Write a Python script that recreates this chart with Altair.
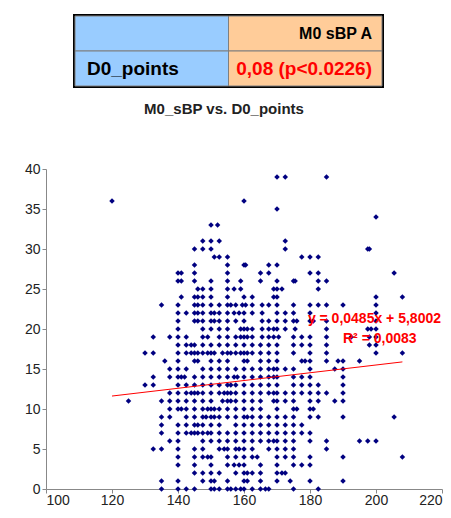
import altair as alt
import pandas as pd

# ---------------- data ----------------
# sBP values (x) at each D0_points level (y)
d0_39 = [170, 172.5, 185]
d0_36 = [120, 160]
d0_35 = [170]
d0_34 = [200]
d0_33 = [150, 152]
d0_31 = [147.5, 150, 152.5, 172.5]
d0_30 = [145, 147.5, 150, 172.5, 197.5, 198]
d0_29 = [151, 152.5, 155, 177.5, 180, 182.5]
d0_28 = [145, 155, 160, 160.5, 167.5, 170]
d0_27 = [140, 141, 145, 155, 165, 167.5, 180, 182.5, 205.5]
d0_26 = [140, 141, 145, 150, 155, 159, 165, 170, 175, 175.5, 182.5, 185]
d0_25 = [146, 147.5, 150, 155, 157, 159, 169, 170, 171.5, 182.5]
d0_24 = [141, 145, 146, 147.5, 150, 155, 160, 162.5, 169, 170, 200, 208]
d0_23 = [135, 140, 145, 146, 147.5, 150, 152.5, 155, 156, 157.5, 159.5, 160.5,
         162.5, 165.5, 167.5, 170, 175, 180, 182.5, 185, 190, 200]
d0_22 = [140, 142.5, 145, 146, 147.5, 150, 151, 152.5, 155, 157, 158.5, 160,
         162.5, 165.5, 170, 172.5, 175, 180, 200]
d0_21 = [140, 145, 146, 147.5, 150, 151, 152.5, 155, 157.5, 160, 165.5, 167.5,
         170, 172.5, 175, 176, 180, 181, 185, 200]
d0_20 = [140, 147.5, 150, 152.5, 155, 159, 160, 161, 162.5, 165.5, 167.5, 169,
         170, 172.5, 175.5, 185, 197.5, 198.5, 200]
d0_19 = [132.5, 137.5, 140, 142.5, 147.5, 149, 152.5, 155, 157.5, 159, 160, 161,
         162.5, 165.5, 167.5, 169, 170.5, 175, 177.5, 180, 185, 192.5, 198, 200]
d0_18 = [140, 142.5, 144, 145, 147.5, 150, 152.5, 155, 157.5, 160, 162.5, 165,
         167.5, 170, 175, 177.5, 180, 185, 198, 200]
d0_17 = [130, 132.5, 140, 142.5, 144, 145, 146, 147.5, 149, 150, 151, 153.5, 155,
         156, 157.5, 159, 160, 161, 162.5, 165, 167.5, 170, 175, 180, 185, 200, 208]
d0_16 = [136, 140, 145, 146, 150, 152.5, 155, 160, 161, 165, 167.5, 170, 177.5,
         178.5, 180, 185, 188.5, 190, 195]
d0_15 = [137.5, 140, 142.5, 147.5, 150, 152.5, 155, 157.5, 160, 162.5, 165, 167.5,
         169, 170, 172.5, 175, 180, 187.5, 190]
d0_14 = [132.5, 137.5, 140, 141, 142, 145, 147.5, 150, 152.5, 155, 157, 158, 160,
         162.5, 165, 167.5, 169, 170, 175, 177.5, 180, 190]
d0_13 = [130, 132.5, 140, 142.5, 145, 147.5, 150, 152.5, 155, 156, 157.5, 160,
         162.5, 165, 167.5, 170, 175, 177.5, 180, 182.5, 190]
d0_12 = [137.5, 140, 142.5, 144, 145, 146, 147.5, 150, 152.5, 154, 155, 156, 157.5,
         160, 162.5, 165, 167.5, 169, 170, 172.5, 175, 177.5, 180, 182.5, 185, 190]
d0_11 = [125, 135, 137.5, 140, 142.5, 145, 147.5, 150, 153.5, 155, 156, 157.5, 160,
         162.5, 165, 169, 170, 172.5, 175, 180, 182.5, 187.5, 190]
d0_10 = [137.5, 140, 141, 142.5, 145, 147.5, 149, 150, 151, 152.5, 155, 157.5, 160,
         162.5, 165, 170, 175, 176, 180, 181]
d0_9 = [135, 137.5, 142.5, 145, 147.5, 148.5, 150, 151, 152.5, 155, 157.5, 160, 161,
        162.5, 165, 167.5, 170, 172.5, 175, 180, 182.5, 190, 205.5]
d0_8 = [135, 140, 142.5, 145, 146, 147.5, 150, 152.5, 157.5, 160, 162.5, 165, 167.5,
        170, 172.5, 175, 177.5]
d0_7 = [135, 140, 142.5, 144, 145, 146, 147.5, 149, 150, 152.5, 155, 157.5, 160,
        162.5, 165, 167.5, 170, 172.5, 175, 177.5, 180]
d0_6 = [137.5, 140, 147.5, 150, 152.5, 155, 157.5, 160, 162.5, 165, 167.5, 169, 170,
        172.5, 175, 180, 185, 195, 197.5, 200]
d0_5 = [132.5, 135, 140, 145, 147.5, 152.5, 154, 155, 157.5, 158.5, 160, 162.5,
        167.5, 170, 172.5, 175, 185]
d0_4 = [140, 145, 147.5, 149, 150, 155, 157.5, 160, 162.5, 164, 170, 172.5, 175, 180,
        190, 208]
d0_3 = [140, 145, 150, 155, 157, 158.5, 160, 165, 170, 175, 177.5, 180]
d0_2 = [145, 147.5, 150, 152.5, 157.5, 160, 161, 162.5, 165, 170, 171.5, 172.5]
d0_1 = [135, 140, 147.5, 150, 151, 155, 160, 161, 165, 170, 174, 180, 190]
d0_0 = [135, 140, 142.5, 145, 150, 151, 152.5, 155, 156, 157.5, 159, 160, 162.5, 165,
        166.5, 167.5, 175, 182.5]

levels = [
    (39, d0_39), (36, d0_36), (35, d0_35), (34, d0_34), (33, d0_33), (31, d0_31),
    (30, d0_30), (29, d0_29), (28, d0_28), (27, d0_27), (26, d0_26), (25, d0_25),
    (24, d0_24), (23, d0_23), (22, d0_22), (21, d0_21), (20, d0_20), (19, d0_19),
    (18, d0_18), (17, d0_17), (16, d0_16), (15, d0_15), (14, d0_14), (13, d0_13),
    (12, d0_12), (11, d0_11), (10, d0_10), (9, d0_9), (8, d0_8), (7, d0_7),
    (6, d0_6), (5, d0_5), (4, d0_4), (3, d0_3), (2, d0_2), (1, d0_1), (0, d0_0),
]

# trend line as printed on the chart
slope = 0.0485
intercept = 5.8002
equation_label = "y = 0,0485x + 5,8002"
r2_label = "R² = 0,0083"

x_ticks = [100, 120, 140, 160, 180, 200, 220]
y_ticks = [0, 5, 10, 15, 20, 25, 30, 35, 40]

# correlation table
table_rows = ["r0", "r1"]
table_cols = ["c0", "c1"]
header_text = "M0 sBP A"
row_text = "D0_points"
corr_text = "0,08 (p<0.0226)"
chart_title = "M0_sBP  vs. D0_points"

# ---------------- styles ----------------
FONT = "Liberation Sans"
NAVY = "#000080"
RED = "#ff0000"
BLUE = "#99ccff"
ORANGE = "#ffcc99"

# ---------------- table panel ----------------
cells = pd.DataFrame([(r, c) for r in table_rows for c in table_cols], columns=["row", "col"])
xs = alt.Scale(domain=table_cols, paddingInner=0, paddingOuter=0.0945, align=1)
ys = alt.Scale(domain=table_rows, paddingInner=0, paddingOuter=0)

tbase = alt.Chart(cells).encode(
    x=alt.X("col:N", scale=xs, axis=None),
    y=alt.Y("row:N", scale=ys, axis=None),
)
t_border = tbase.mark_rect(fill="black", stroke="black", strokeWidth=4)
t_fill = tbase.mark_rect(stroke="#7f7f7f", strokeWidth=1).encode(
    fill=alt.Fill("col:N", scale=alt.Scale(domain=table_cols, range=[BLUE, ORANGE]), legend=None)
)

left_df = pd.DataFrame({"row": [table_rows[1]], "col": [table_cols[0]], "t": [row_text]})
head_df = pd.DataFrame({"row": [table_rows[0]], "col": [table_cols[1]], "t": [header_text]})
val_df = pd.DataFrame({"row": [table_rows[1]], "col": [table_cols[1]], "t": [corr_text]})

t_left = alt.Chart(left_df).mark_text(
    align="left", baseline="middle", dx=12, font=FONT, fontSize=19, fontWeight="bold", color="black"
).encode(x=alt.X("col:N", bandPosition=0), y=alt.Y("row:N"), text="t:N")
t_head = alt.Chart(head_df).mark_text(
    align="right", baseline="middle", dx=-10, font=FONT, fontSize=16, fontWeight="bold", color="black"
).encode(x=alt.X("col:N", bandPosition=1), y=alt.Y("row:N"), text="t:N")
t_val = alt.Chart(val_df).mark_text(
    align="right", baseline="middle", dx=-10, font=FONT, fontSize=19, fontWeight="bold", color=RED
).encode(x=alt.X("col:N", bandPosition=1), y=alt.Y("row:N"), text="t:N")

table = alt.layer(t_border, t_fill, t_left, t_head, t_val).properties(width=336, height=70)

# ---------------- scatter panel ----------------
pts = pd.DataFrame([(x, lvl) for lvl, xsv in levels for x in xsv], columns=["sBP", "D0"])

x_min = float(pts["sBP"].min())
x_max = float(pts["sBP"].max())
trend = pd.DataFrame({"sBP": [x_min, x_max]})
trend["D0"] = slope * trend["sBP"] + intercept

xscale = alt.Scale(domain=[x_ticks[0], x_ticks[-1]], nice=False, zero=False)
yscale = alt.Scale(domain=[y_ticks[0], y_ticks[-1]], nice=False)

axis_common = dict(
    grid=False, domainColor="#888888", tickColor="#888888", tickSize=4,
    labelFont=FONT, labelFontSize=14, labelColor="#222222", title=None,
    labelOverlap=False,
)

points = alt.Chart(pts).mark_point(
    shape="diamond", filled=True, size=30, color=NAVY, opacity=1
).encode(
    x=alt.X("sBP:Q", scale=xscale, axis=alt.Axis(
        values=x_ticks, tickCount=len(x_ticks), labelPadding=0, labelFlush=True, **axis_common)),
    y=alt.Y("D0:Q", scale=yscale, axis=alt.Axis(
        values=y_ticks, tickCount=len(y_ticks), labelPadding=2, labelFlush=False, **axis_common)),
)

line = alt.Chart(trend).mark_line(color=RED, strokeWidth=1).encode(x="sBP:Q", y="D0:Q")

# equation ends at the right edge of the plot, R² below it
eq_df = pd.DataFrame({"sBP": [x_ticks[-1]], "D0": [21.3], "t": [equation_label]})
r2_df = pd.DataFrame({"sBP": [190.0], "D0": [18.7], "t": [r2_label]})
eq_text = alt.Chart(eq_df).mark_text(
    align="right", baseline="middle", dx=-1, font=FONT, fontSize=14, fontWeight="bold", color=RED,
).encode(x="sBP:Q", y="D0:Q", text="t:N")
r2_text = alt.Chart(r2_df).mark_text(
    align="left", baseline="middle", font=FONT, fontSize=14, fontWeight="bold", color=RED,
).encode(x="sBP:Q", y="D0:Q", text="t:N")

scatter = alt.layer(points, line, eq_text, r2_text).properties(
    width=396,
    height=320,
    title=alt.TitleParams(
        text=chart_title, font=FONT, fontSize=15, fontWeight="bold", color="#222222",
        anchor="middle", dx=-20, offset=45,
    ),
)

chart = alt.vconcat(table, scatter, spacing=14).properties(
    padding={"left": 16, "top": 6, "right": 0, "bottom": 0},
    background="white",
).configure(font=FONT).configure_view(strokeWidth=0)

chart.save("out.html", embed_options={"renderer": "svg", "actions": False})
